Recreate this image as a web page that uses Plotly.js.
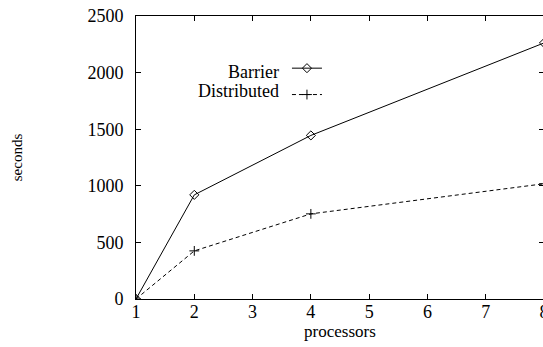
<!DOCTYPE html>
<html>
<head>
<meta charset="utf-8">
<script src="https://cdn.plot.ly/plotly-3.0.1.min.js"></script>
<style>html,body{margin:0;padding:0;overflow:hidden;background:#fff;}</style>
</head>
<body>
<div id="chart"></div>
<script>
const processors = [1, 2, 4, 8];
const barrier = [0, 920, 1445, 2262];
const distributed = [0, 425, 752, 1018];
const seriesNames = ['Barrier', 'Distributed'];
const xTicks = [1, 2, 3, 4, 5, 6, 7, 8];

const FONT = 'Liberation Serif';

const traces = [
  {
    x: processors, y: barrier, name: '', mode: 'lines+markers',
    line: {color: '#000', width: 1},
    marker: {symbol: 'diamond-open', size: 7, color: '#000', line: {width: 1}},
    showlegend: true
  },
  {
    x: processors, y: distributed, name: '', mode: 'lines+markers',
    line: {color: '#000', width: 1, dash: '4px,3px'},
    marker: {symbol: 'cross-thin-open', size: 7, color: '#000', line: {width: 1}},
    showlegend: true
  }
];

const layout = {
  width: 546, height: 347,
  margin: {l: 136, r: 2, t: 16, b: 48},
  paper_bgcolor: '#fff', plot_bgcolor: '#fff',
  font: {family: FONT, size: 18, color: '#000'},
  showlegend: true,
  legend: {x: 0.37, y: 0.88, xanchor: 'left', yanchor: 'top', bgcolor: 'rgba(0,0,0,0)',
           tracegroupgap: 0, font: {family: FONT, size: 18}},
  xaxis: {
    range: [1, 8], tickvals: xTicks, ticks: 'inside', ticklen: 5, tickcolor: '#000',
    showline: true, linecolor: '#000', linewidth: 1, mirror: 'ticks',
    showgrid: false, zeroline: false, fixedrange: true, ticklabeloverflow: 'allow',
    tickfont: {family: FONT, size: 18}, ticklabelstandoff: -4,
    title: {text: 'processors', font: {family: FONT, size: 17}, standoff: 0}
  },
  yaxis: {
    range: [0, 2500], dtick: 500, ticks: 'inside', ticklen: 5, tickcolor: '#000',
    showline: true, linecolor: '#000', linewidth: 1, mirror: 'ticks',
    showgrid: false, zeroline: false, fixedrange: true,
    tickfont: {family: FONT, size: 18}, ticklabelstandoff: 8,
    title: {text: 'seconds', font: {family: FONT, size: 15}, standoff: 61}
  },
  annotations: [
    {xref: 'paper', yref: 'paper', x: 0.356, y: 0.803, xanchor: 'right', yanchor: 'middle',
     text: seriesNames[0], showarrow: false, font: {family: FONT, size: 18}},
    {xref: 'paper', yref: 'paper', x: 0.356, y: 0.735, xanchor: 'right', yanchor: 'middle',
     text: seriesNames[1], showarrow: false, font: {family: FONT, size: 18}}
  ]
};

Plotly.newPlot('chart', traces, layout, {displayModeBar: false, staticPlot: true});
</script>
</body>
</html>
